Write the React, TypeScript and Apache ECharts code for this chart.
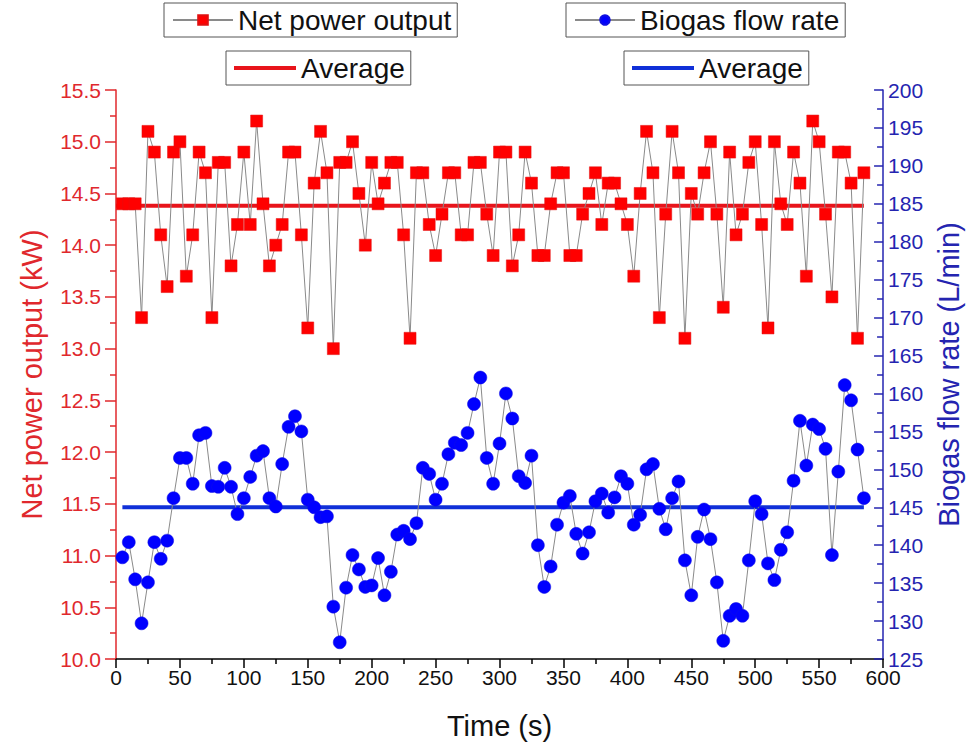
import React, { useEffect, useRef } from "react";
import * as echarts from "echarts";

const timeS = [
  5, 10, 15, 20, 25, 30, 35, 40, 45, 50, 55, 60, 65, 70, 75, 80, 85, 90, 95, 100,
  105, 110, 115, 120, 125, 130, 135, 140, 145, 150, 155, 160, 165, 170, 175, 180, 185, 190, 195, 200,
  205, 210, 215, 220, 225, 230, 235, 240, 245, 250, 255, 260, 265, 270, 275, 280, 285, 290, 295, 300,
  305, 310, 315, 320, 325, 330, 335, 340, 345, 350, 355, 360, 365, 370, 375, 380, 385, 390, 395, 400,
  405, 410, 415, 420, 425, 430, 435, 440, 445, 450, 455, 460, 465, 470, 475, 480, 485, 490, 495, 500,
  505, 510, 515, 520, 525, 530, 535, 540, 545, 550, 555, 560, 565, 570, 575, 580, 585,
];

const netPowerKW = [
  14.4, 14.4, 14.4, 13.3, 15.1, 14.9, 14.1, 13.6, 14.9, 15.0, 13.7, 14.1, 14.9, 14.7, 13.3, 14.8, 14.8, 13.8, 14.2, 14.9,
  14.2, 15.2, 14.4, 13.8, 14.0, 14.2, 14.9, 14.9, 14.1, 13.2, 14.6, 15.1, 14.7, 13.0, 14.8, 14.8, 15.0, 14.5, 14.0, 14.8,
  14.4, 14.6, 14.8, 14.8, 14.1, 13.1, 14.7, 14.7, 14.2, 13.9, 14.3, 14.7, 14.7, 14.1, 14.1, 14.8, 14.8, 14.3, 13.9, 14.9,
  14.9, 13.8, 14.1, 14.9, 14.6, 13.9, 13.9, 14.4, 14.7, 14.7, 13.9, 13.9, 14.3, 14.5, 14.7, 14.2, 14.6, 14.6, 14.4, 14.2,
  13.7, 14.5, 15.1, 14.7, 13.3, 14.3, 15.1, 14.7, 13.1, 14.5, 14.3, 14.7, 15.0, 14.3, 13.4, 14.9, 14.1, 14.3, 14.8, 15.0,
  14.2, 13.2, 15.0, 14.4, 14.2, 14.9, 14.6, 13.7, 15.2, 15.0, 14.3, 13.5, 14.9, 14.9, 14.6, 13.1, 14.7,
];

const biogasLmin = [
  138.4, 140.4, 135.5, 129.7, 135.1, 140.4, 138.2, 140.6, 146.2, 151.5, 151.5, 148.1, 154.5, 154.8, 147.8, 147.7, 150.2, 147.7, 144.1, 146.2,
  149.0, 151.8, 152.4, 146.2, 145.1, 150.7, 155.6, 157.0, 155.0, 146.0, 145.0, 143.7, 143.8, 131.9, 127.2, 134.4, 138.7, 136.8, 134.5, 134.7,
  138.3, 133.4, 136.5, 141.4, 141.9, 140.8, 142.9, 150.2, 149.4, 146.0, 148.1, 152.0, 153.5, 153.2, 154.8, 158.6, 162.1, 151.5, 148.1, 153.4,
  160.0, 156.7, 149.1, 148.2, 151.8, 140.0, 134.5, 137.2, 142.7, 145.6, 146.5, 141.5, 138.9, 141.7, 145.8, 146.8, 144.3, 146.3, 149.1, 148.1,
  142.7, 144.0, 150.0, 150.7, 144.8, 142.1, 146.2, 148.4, 138.0, 133.4, 141.1, 144.7, 140.8, 135.1, 127.4, 130.7, 131.6, 130.7, 138.0, 145.8,
  144.1, 137.6, 135.4, 139.4, 141.7, 148.5, 156.4, 150.5, 155.9, 155.3, 152.7, 138.7, 149.7, 161.1, 159.1, 152.6, 146.2,
];

const powerAverage = 14.38;
const powerAverageSpan = [0, 585];
const biogasAverage = 145.0;
const biogasAverageSpan = [5, 585];

const FONT = "'Liberation Sans', Arial, sans-serif";
const RED_AXIS = "#e0282d";
const BLUE_AXIS = "#2424b0";
const RED = "#ff0000";
const BLUE = "#0000ff";
const RED_AVG = "#e8141b";
const BLUE_AVG = "#1030d8";

export default function App() {
  const ref = useRef<HTMLDivElement>(null);

  useEffect(() => {
    document.body.style.margin = "0";
    if (!ref.current) return;
    const chart = echarts.init(ref.current, undefined, { renderer: "svg" });

    const powerData = timeS.map((t, i) => [t, netPowerKW[i]]);
    const biogasData = timeS.map((t, i) => [t, biogasLmin[i]]);

    const legendBase = {
      orient: "horizontal" as const,
      borderColor: "#555",
      borderWidth: 1,
      itemGap: 0,
      selectedMode: false,
      textStyle: { fontSize: 28, color: "#111", fontFamily: FONT },
      formatter: (name: string) => (name.startsWith("Average") ? "Average" : name),
    };

    chart.setOption({
      animation: false,
      backgroundColor: "#ffffff",
      grid: { left: 116, right: 83, top: 90, bottom: 94, containLabel: false },
      legend: [
        { ...legendBase, data: ["Net power output"], left: 164, top: 3, padding: [3, 6, 3, 8], itemWidth: 60, itemHeight: 12 },
        { ...legendBase, data: ["Biogas flow rate"], left: 566, top: 3, padding: [3, 6, 3, 8], itemWidth: 60, itemHeight: 12 },
        {
          ...legendBase,
          data: [{ name: "Average (power)", icon: "rect", itemStyle: { color: RED_AVG } }],
          left: 226, top: 51, padding: [3, 6, 3, 8], itemWidth: 62, itemHeight: 4,
        },
        {
          ...legendBase,
          data: [{ name: "Average (biogas)", icon: "rect", itemStyle: { color: BLUE_AVG } }],
          left: 624, top: 51, padding: [3, 6, 3, 8], itemWidth: 62, itemHeight: 4,
        },
      ],
      xAxis: {
        type: "value",
        min: 0,
        max: 600,
        interval: 50,
        name: "Time (s)",
        nameLocation: "middle",
        nameGap: 52,
        nameTextStyle: { fontSize: 29, color: "#111", fontFamily: FONT },
        axisLine: { show: true, lineStyle: { color: "#000", width: 1.5 } },
        axisTick: { show: true, length: 9, lineStyle: { color: "#000", width: 1.5 } },
        minorTick: { show: true, splitNumber: 2, length: 5, lineStyle: { color: "#000", width: 1.5 } },
        axisLabel: { fontSize: 21, color: "#111", fontFamily: FONT, margin: 8 },
        splitLine: { show: false },
      },
      yAxis: [
        {
          type: "value",
          position: "left",
          min: 10,
          max: 15.5,
          interval: 0.5,
          name: "Net power output (kW)",
          nameLocation: "middle",
          nameGap: 70,
          nameRotate: 90,
          nameTextStyle: { fontSize: 29, color: RED_AXIS, fontFamily: FONT },
          axisLine: { show: true, lineStyle: { color: RED_AXIS, width: 1.5 } },
          axisTick: { show: true, length: 11, lineStyle: { color: RED_AXIS, width: 1.5 } },
          minorTick: { show: true, splitNumber: 2, length: 6, lineStyle: { color: RED_AXIS, width: 1.5 } },
          axisLabel: { fontSize: 21, color: RED_AXIS, fontFamily: FONT, margin: 15, formatter: (v: number) => v.toFixed(1) },
          splitLine: { show: false },
        },
        {
          type: "value",
          position: "right",
          min: 125,
          max: 200,
          interval: 5,
          name: "Biogas flow rate (L/min)",
          nameLocation: "middle",
          nameGap: 46,
          nameRotate: 90,
          nameTextStyle: { fontSize: 29, color: BLUE_AXIS, fontFamily: FONT },
          axisLine: { show: true, lineStyle: { color: BLUE_AXIS, width: 1.5 } },
          axisTick: { show: true, inside: true, length: 9, lineStyle: { color: BLUE_AXIS, width: 1.5 } },
          minorTick: { show: true, splitNumber: 2, length: 6, lineStyle: { color: BLUE_AXIS, width: 1.5 } },
          axisLabel: { fontSize: 21, color: BLUE_AXIS, fontFamily: FONT, margin: 5 },
          splitLine: { show: false },
        },
      ],
      series: [
        {
          name: "Average (power)",
          type: "line",
          yAxisIndex: 0,
          data: powerAverageSpan.map((t) => [t, powerAverage]),
          symbol: "none",
          lineStyle: { color: RED_AVG, width: 4 },
          itemStyle: { color: RED_AVG },
          z: 1,
          silent: true,
        },
        {
          name: "Average (biogas)",
          type: "line",
          yAxisIndex: 1,
          data: biogasAverageSpan.map((t) => [t, biogasAverage]),
          symbol: "none",
          lineStyle: { color: BLUE_AVG, width: 4 },
          itemStyle: { color: BLUE_AVG },
          z: 1,
          silent: true,
        },
        {
          name: "Net power output",
          type: "line",
          yAxisIndex: 0,
          data: powerData,
          symbol: "rect",
          symbolSize: 12,
          showAllSymbol: true,
          lineStyle: { color: "#8a8a8a", width: 1 },
          itemStyle: { color: RED, borderColor: "#e01010", borderWidth: 0.5 },
          z: 3,
        },
        {
          name: "Biogas flow rate",
          type: "line",
          yAxisIndex: 1,
          data: biogasData,
          symbol: "circle",
          symbolSize: 13,
          showAllSymbol: true,
          lineStyle: { color: "#8a8a8a", width: 1 },
          itemStyle: { color: BLUE, borderColor: "#1010e0", borderWidth: 0.5 },
          z: 3,
        },
      ],
    });

    return () => chart.dispose();
  }, []);

  return <div ref={ref} style={{ width: 971, height: 753 }} />;
}
